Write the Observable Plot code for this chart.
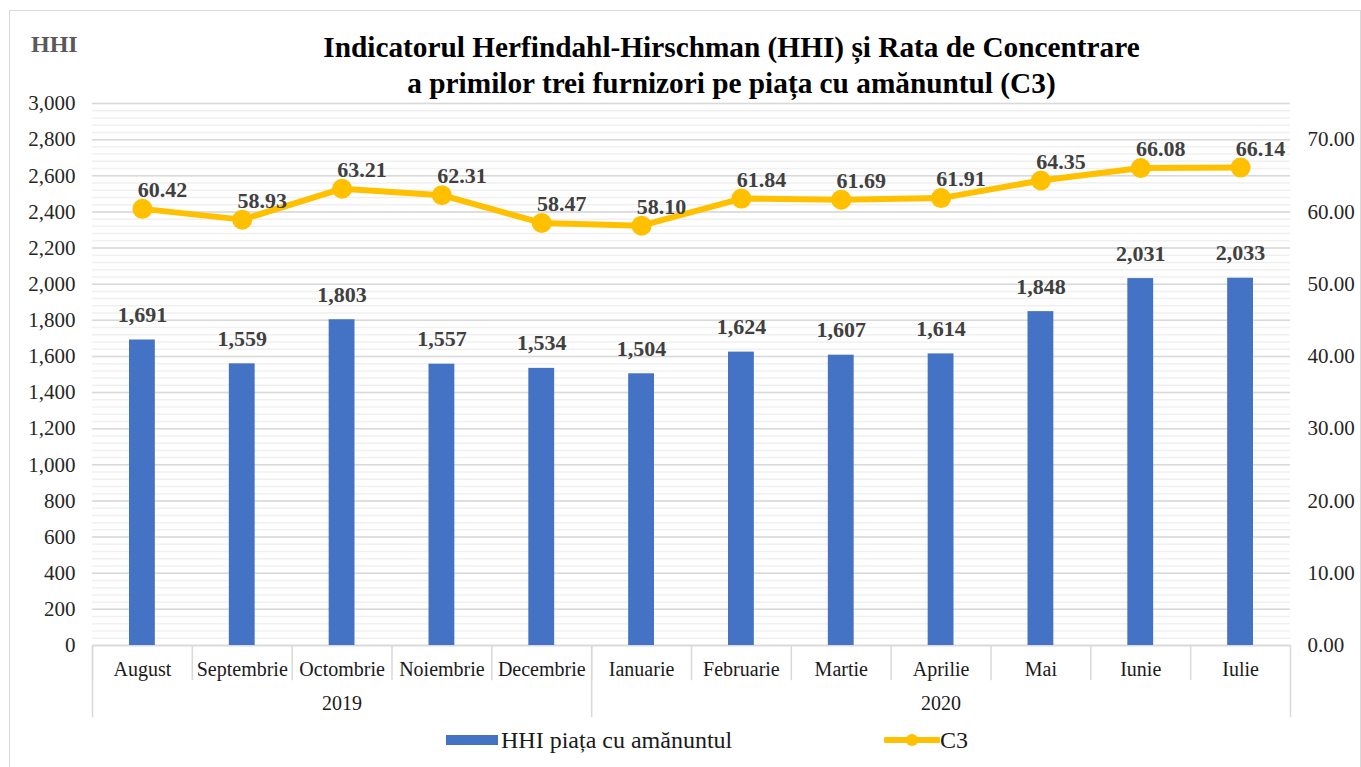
<!DOCTYPE html>
<html>
<head>
<meta charset="utf-8">
<script src="https://cdn.jsdelivr.net/npm/d3@7"></script>
<script src="https://cdn.jsdelivr.net/npm/@observablehq/plot@0.6"></script>
<style>
  html, body { margin: 0; padding: 0; background: #fff; }
  body { width: 1361px; height: 767px; overflow: hidden; position: relative; font-family: "Liberation Serif", "Times New Roman", serif; }
  #frame { position: absolute; left: 9px; top: 10px; width: 1352px; height: 770px; border: 1px solid #d9d9d9; box-sizing: border-box; }
  #hhi { position: absolute; left: 31px; top: 31px; font-size: 24px; font-weight: bold; color: #595959; }
  #title { position: absolute; left: 0; top: 29px; width: 1463px; text-align: center; font-size: 29.3px; font-weight: bold; line-height: 36px; color: #000; }
  #chart { position: absolute; left: 0; top: 90px; width: 1361px; }
  #chart svg { background: transparent !important; }
  #legend { position: absolute; top: 727px; left: 0; width: 1361px; height: 26px; font-size: 24px; color: #1a1a1a; }
  .sw { position: absolute; }
  .lt { position: absolute; top: 0; line-height: 26px; }
</style>
</head>
<body>
<div id="frame"></div>
<div id="hhi">HHI</div>
<div id="title">Indicatorul Herfindahl-Hirschman (HHI) și Rata de Concentrare<br>a primilor trei furnizori pe piața cu amănuntul (C3)</div>
<div id="chart"></div>
<div id="legend">
  <svg class="sw" style="left:446px;top:7px" width="52" height="12"><rect x="0" y="1" width="52" height="10" fill="#4472C4"></rect></svg>
  <span class="lt" style="left:501px">HHI piața cu amănuntul</span>
  <svg class="sw" style="left:884px;top:3px" width="56" height="20"><line x1="2" y1="10" x2="54" y2="10" stroke="#FFC000" stroke-width="6" stroke-linecap="round"></line><circle cx="28" cy="10" r="6" fill="#FFC000"></circle></svg>
  <span class="lt" style="left:940px">C3</span>
</div>
<script>
const months = ["August","Septembrie","Octombrie","Noiembrie","Decembrie","Ianuarie","Februarie","Martie","Aprilie","Mai","Iunie","Iulie"];
const hhi = [1691,1559,1803,1557,1534,1504,1624,1607,1614,1848,2031,2033];
const c3 = [60.42,58.93,63.21,62.31,58.47,58.10,61.84,61.69,61.91,64.35,66.08,66.14];
const years = ["2019","2020"];
const yearMid = ["Octombrie","Aprilie"];        // middle category of each year group
const yearStart = ["August","Ianuarie"];        // first category of each year group
const leftTicks = d3.range(0, 3001, 200);
const rightTicks = d3.range(0, 71, 10);

const C3_MAX = 75, HHI_MAX = 3000, k = HHI_MAX / C3_MAX;
const data = months.map((m, i) => ({month: m, hhi: hhi[i], c3: c3[i], c3s: c3[i] * k}));
const yearData = years.map((y, i) => ({year: y, mid: yearMid[i], start: yearStart[i]}));

const W = 1361, H = 630, mL = 92, mR = 71, mT = 13, mB = 75;
const bw = (W - mL - mR) / months.length;
const serif = "'Liberation Serif', 'Times New Roman', serif";

const chart = Plot.plot({
  width: W, height: H,
  marginLeft: mL, marginRight: mR, marginTop: mT, marginBottom: mB,
  style: {fontFamily: serif, background: "transparent", overflow: "visible"},
  x: {domain: months, padding: 0, round: false, range: [mL, W - mR], axis: null},
  y: {domain: [0, HHI_MAX], range: [H - mB, mT], axis: null},
  marks: [
    Plot.gridY({ticks: d3.range(0, 3001, 40), stroke: "#f0f0f0", strokeOpacity: 1, strokeWidth: 1.5}),
    Plot.gridY({ticks: leftTicks, stroke: "#d9d9d9", strokeOpacity: 1, strokeWidth: 1.5}),
    Plot.axisY({ticks: leftTicks, tickSize: 0, tickPadding: 17, tickFormat: d3.format(","), fontSize: 21, fontFamily: serif, fill: "#262626", label: null}),
    Plot.axisY({anchor: "right", ticks: rightTicks.map(v => v * k), tickSize: 0, tickPadding: 17, tickFormat: d => (d / k).toFixed(2), fontSize: 21, fontFamily: serif, fill: "#262626", label: null}),
    // category separators
    Plot.ruleX(months, {x: d => d, dx: -bw / 2, y1: 0, y2: -195, stroke: "#d9d9d9", strokeWidth: 1.5}),
    Plot.ruleX(yearData, {x: "start", dx: -bw / 2, y1: 0, y2: -400, stroke: "#d9d9d9", strokeWidth: 1.5}),
    Plot.ruleX(["Iulie"], {x: d => d, dx: bw / 2, y1: 0, y2: -400, stroke: "#d9d9d9", strokeWidth: 1.5}),
    Plot.ruleY([0], {stroke: "#d9d9d9", strokeWidth: 1.5}),
    Plot.axisX({tickSize: 0, tickPadding: 16, fontSize: 20, fontFamily: serif, fill: "#1a1a1a", label: null}),
    Plot.text(yearData, {x: "mid", text: "year", frameAnchor: "bottom", lineAnchor: "middle", dy: 58, fontSize: 20, fontFamily: serif, fill: "#1a1a1a"}),
    // bars
    Plot.barY(data, {x: "month", y: "hhi", fill: "#4472C4", insetLeft: 37, insetRight: 37}),
    Plot.text(data, {x: "month", y: "hhi", text: d => d3.format(",")(d.hhi), dy: -25, fontSize: 22, fontFamily: serif, fontWeight: "bold", fill: "#404040"}),
    // C3 line
    Plot.line(data, {x: "month", y: "c3s", stroke: "#FFC000", strokeWidth: 6}),
    Plot.dot(data, {x: "month", y: "c3s", r: 10, fill: "#FFC000"}),
    Plot.text(data, {x: "month", y: "c3s", text: d => d.c3.toFixed(2), dx: 20, dy: -19, fontSize: 22, fontFamily: serif, fontWeight: "bold", fill: "#404040"})
  ]
});
document.getElementById("chart").appendChild(chart);
</script>
</body>
</html>
